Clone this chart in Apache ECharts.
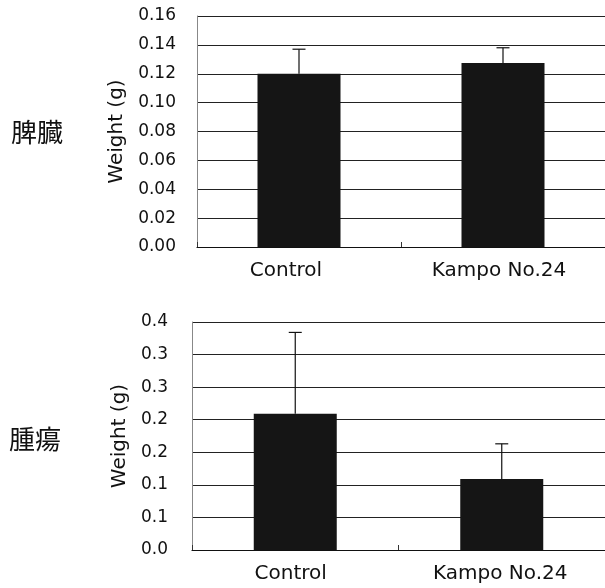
<!DOCTYPE html>
<html><head><meta charset="utf-8">
<script src="https://cdn.jsdelivr.net/npm/echarts@6/dist/echarts.min.js"></script>
<style>html,body{margin:0;padding:0;background:#fff}#c{width:605px;height:588px}</style>
</head><body><div id="c"></div>
<script>
const categories = ['Control', 'Kampo No.24'];
const spleenMean = [0.120, 0.1275];
const spleenSD = [0.017, 0.0105];
const tumorMean = [0.209, 0.109];
const tumorSD = [0.125, 0.054];
const spleenTickLabels = ['0.00','0.02','0.04','0.06','0.08','0.10','0.12','0.14','0.16'];
const tumorTickLabels = ['0.0','0.1','0.1','0.2','0.2','0.3','0.3','0.4'];
const panelLabels = ['脾臓', '腫瘍'];
const axisName = 'Weight (g)';

const FONT = 'DejaVu Sans';
const chart = echarts.init(document.getElementById('c'), null, {renderer:'canvas'});

function errSeries(xi, yi, mean, sd) {
  return {
    type: 'custom', xAxisIndex: xi, yAxisIndex: yi, z: 5,
    data: mean.map((m, i) => [i, m, m + sd[i]]),
    renderItem: function (params, api) {
      const base = api.coord([api.value(0), api.value(1)]);
      const top = api.coord([api.value(0), api.value(2)]);
      const hw = 6.5;
      return {
        type: 'group',
        children: [
          {type:'line', shape:{x1:base[0], y1:base[1], x2:top[0], y2:top[1]}, style:{stroke:'#111', lineWidth:1.2}},
          {type:'line', shape:{x1:top[0]-hw, y1:top[1], x2:top[0]+hw, y2:top[1]}, style:{stroke:'#111', lineWidth:1.2}}
        ]
      };
    }
  };
}

function xAx(gi, shifts) {
  const rich = {};
  shifts.forEach((s, i) => { rich['c' + i] = {fontFamily:FONT, fontSize:20, color:'#111', padding:[0, s, 0, 0]}; });
  return {
    type: 'category', gridIndex: gi, data: categories,
    axisLine: {show:true, lineStyle:{color:'#111', width:1.2}},
    axisTick: {show:true, inside:true, length:5, lineStyle:{color:'#333'}},
    axisLabel: {color:'#111', fontFamily:FONT, fontSize:20, margin:14, rich: rich, interval: 0, hideOverlap: false,
      formatter: function (v, i) { return '{c' + i + '|' + v + '}'; }},
    splitLine: {show:false}
  };
}
function yAx(gi, max, interval, labels, gap, lmargin) {
  return {
    type: 'value', gridIndex: gi, min: 0, max: max, interval: interval,
    name: axisName, nameLocation: 'middle', nameGap: gap, nameRotate: 90,
    nameTextStyle: {color:'#111', fontFamily:FONT, fontSize:20},
    axisLine: {show:true, lineStyle:{color:'#888', width:1}},
    axisTick: {show:false},
    axisLabel: {color:'#111', fontFamily:FONT, fontSize:17, margin:lmargin,
      formatter: function (v) { return labels[Math.round(v / interval)]; }},
    splitLine: {show:true, lineStyle:{color:'#222', width:1}}
  };
}

chart.setOption({
  animation: false,
  backgroundColor: '#fff',
  grid: [
    {left: 197, top: 16, width: 410, height: 231},
    {left: 192, top: 322, width: 420, height: 228}
  ],
  xAxis: [xAx(0, [26, 8]), xAx(1, [9, 3])],
  yAxis: [
    yAx(0, 0.16, 0.02, spleenTickLabels, 69, 21),
    yAx(1, 0.35, 0.05, tumorTickLabels, 57, 24)
  ],
  graphic: [
    {type:'text', left: 11, top: 119, style:{text: panelLabels[0], font: '26px "Noto Sans CJK JP"', fill:'#111'}},
    {type:'text', left: 9, top: 426, style:{text: panelLabels[1], font: '26px "Noto Sans CJK JP"', fill:'#111'}}
  ],
  series: [
    {type:'bar', xAxisIndex:0, yAxisIndex:0, data: spleenMean, barWidth: 83, itemStyle:{color:'#151515'}, z:3},
    {type:'bar', xAxisIndex:1, yAxisIndex:1, data: tumorMean, barWidth: 83, itemStyle:{color:'#151515'}, z:3},
    errSeries(0, 0, spleenMean, spleenSD),
    errSeries(1, 1, tumorMean, tumorSD)
  ]
});
</script></body></html>
